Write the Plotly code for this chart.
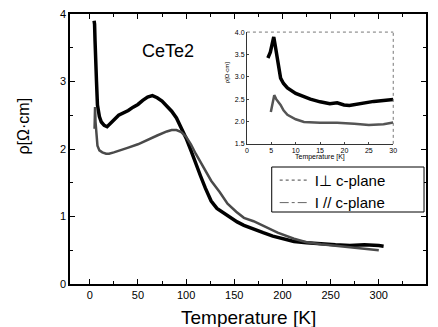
import plotly.graph_objects as go

# Main panel: resistivity vs temperature
T_perp = [4.5, 5, 5.5, 6, 7, 8, 10, 12, 15, 18, 21, 25, 30, 35, 40, 45, 50, 55, 60, 65, 70, 75, 80, 85, 90, 95,
          100, 105, 110, 115, 120, 126, 132, 140, 147, 153, 160, 170, 180, 190, 200, 212, 225, 240, 255, 270, 285, 300, 305]
rho_perp = [3.9, 3.85, 3.6, 3.3, 3.0, 2.65, 2.48, 2.4, 2.35, 2.33, 2.38, 2.43, 2.5, 2.53, 2.57, 2.62, 2.66, 2.72, 2.77,
            2.79, 2.76, 2.71, 2.64, 2.56, 2.46, 2.32, 2.16, 1.98, 1.78, 1.6, 1.42, 1.23, 1.12, 1.04, 0.97, 0.92, 0.87,
            0.81, 0.76, 0.71, 0.67, 0.63, 0.61, 0.59, 0.58, 0.57, 0.58, 0.57, 0.56]

T_par = [5, 5.5, 6, 7, 8, 10, 13, 17, 20, 25, 30, 40, 50, 60, 70, 80, 85, 90, 95, 100, 105, 110, 118, 126, 135, 143,
         152, 160, 170, 181, 195, 212, 225, 240, 255, 270, 285, 300]
rho_par = [2.3, 2.62, 2.4, 2.15, 2.05, 1.98, 1.95, 1.93, 1.93, 1.95, 1.97, 2.02, 2.07, 2.14, 2.2, 2.26, 2.28, 2.28,
           2.25, 2.18, 2.07, 1.93, 1.73, 1.53, 1.36, 1.19, 1.07, 0.98, 0.93, 0.86, 0.76, 0.67, 0.62, 0.59, 0.57,
           0.55, 0.53, 0.5]

# Inset: low temperature detail
Ti_perp = [4.3, 4.8, 5.2, 5.5, 5.8, 6.1, 6.3, 6.9, 7.5, 8.3, 10, 11.7, 13, 15, 17, 18.5, 19.9, 21, 22, 24, 26, 28, 30]
rhoi_perp = [3.42, 3.55, 3.75, 3.89, 3.7, 3.49, 3.33, 2.97, 2.85, 2.75, 2.63, 2.55, 2.5, 2.44, 2.4, 2.42, 2.37, 2.36,
             2.38, 2.42, 2.45, 2.47, 2.49]
Ti_par = [4.9, 5.2, 5.6, 6.0, 6.9, 7.5, 8.3, 10, 11.7, 15, 18.5, 22, 25, 28, 30]
rhoi_par = [2.21, 2.4, 2.59, 2.5, 2.37, 2.25, 2.15, 2.05, 1.99, 1.97, 1.97, 1.95, 1.92, 1.94, 1.98]

legend_names = ["I\u22a5 c-plane", "I // c-plane"]

FONT = "Liberation Sans, Arial, sans-serif"

fig = go.Figure()
fig.add_trace(go.Scatter(x=T_perp, y=rho_perp, mode="lines", line=dict(color="black", width=3.5),
                         showlegend=False, xaxis="x", yaxis="y"))
fig.add_trace(go.Scatter(x=T_par, y=rho_par, mode="lines", line=dict(color="#4a4a4a", width=2.5),
                         showlegend=False, xaxis="x", yaxis="y"))
fig.add_trace(go.Scatter(x=Ti_perp, y=rhoi_perp, mode="lines", line=dict(color="black", width=3.5),
                         showlegend=False, xaxis="x2", yaxis="y2"))
fig.add_trace(go.Scatter(x=Ti_par, y=rhoi_par, mode="lines", line=dict(color="#555555", width=2.5),
                         showlegend=False, xaxis="x2", yaxis="y2"))
# legend samples
fig.add_trace(go.Scatter(x=[None], y=[None], mode="lines", name=legend_names[0],
                         line=dict(color="#444444", width=1, dash="dot")))
fig.add_trace(go.Scatter(x=[None], y=[None], mode="lines", name=legend_names[1],
                         line=dict(color="#666666", width=1, dash="dashdot")))

axis_common = dict(showline=True, linecolor="black", linewidth=1.5, mirror="allticks", ticks="inside",
                   ticklen=5, tickwidth=1.2, tickcolor="black", showgrid=False, zeroline=False,
                   tickfont=dict(family=FONT, size=11, color="black"))

fig.update_layout(
    width=438, height=327,
    margin=dict(l=70, r=8, t=14, b=43),
    paper_bgcolor="white", plot_bgcolor="white",
    xaxis=dict(range=[-20.5, 349], dtick=50, tick0=0, domain=[0, 1],
               minor=dict(ticks="inside", ticklen=3, dtick=25, tick0=0, tickcolor="black"), **axis_common),
    yaxis=dict(range=[0, 4], dtick=1, domain=[0, 1],
               minor=dict(ticks="inside", ticklen=3, dtick=0.5, tickcolor="black"), **axis_common),
    xaxis2=dict(range=[0, 30], dtick=5, domain=[0.497, 0.908], anchor="y2", showline=True, linecolor="#333",
                linewidth=1, ticks="inside", ticklen=2, showgrid=False, zeroline=False,
                tickfont=dict(family=FONT, size=7, color="black")),
    yaxis2=dict(range=[1.5, 4.0], dtick=0.5, tickformat=".1f", domain=[0.519, 0.933], anchor="x2",
                showline=True, linecolor="#333", linewidth=1, ticks="inside", ticklen=2, showgrid=False,
                zeroline=False, tickfont=dict(family=FONT, size=7, color="black")),
    legend=dict(x=0.575, y=0.445, xanchor="left", yanchor="top", bgcolor="rgba(0,0,0,0)",
                borderwidth=0, font=dict(family=FONT, size=15, color="black"), tracegroupgap=0),
    showlegend=True,
)

# legend frame
fig.add_shape(type="rect", xref="paper", yref="paper", x0=(274 - 70) / 360, x1=(428 - 70) / 360,
              y0=(284 - 212) / 270, y1=(284 - 167) / 270, line=dict(color="black", width=1),
              fillcolor="white", layer="above")

# dotted top/right frame of the inset
fig.add_shape(type="line", xref="x2 domain", yref="y2 domain", x0=0, x1=1, y0=1, y1=1,
              line=dict(color="#777", width=1, dash="dot"))
fig.add_shape(type="line", xref="x2 domain", yref="y2 domain", x0=1, x1=1, y0=0, y1=1,
              line=dict(color="#777", width=1, dash="dot"))

def label(text, px, py, size, angle=0):
    fig.add_annotation(text=text, xref="paper", yref="paper", x=(px - 70) / 360, y=(284 - py) / 270,
                       xanchor="center", yanchor="middle", textangle=angle, showarrow=False,
                       font=dict(family=FONT, size=size, color="black"))

label("CeTe2", 169, 51, 18)
label("Temperature [K]", 250, 317, 19)
label("\u03c1[\u03a9\u00b7cm]", 22, 126, 16, -90)
label("Temperature [K]", 323, 157, 7)
label("\u03c1[\u03a9\u00b7cm]", 229, 72, 6, -90)

fig.write_html("out.html", config={"displayModeBar": False},
               post_script="document.body.style.margin='0';document.body.style.overflow='hidden';")
